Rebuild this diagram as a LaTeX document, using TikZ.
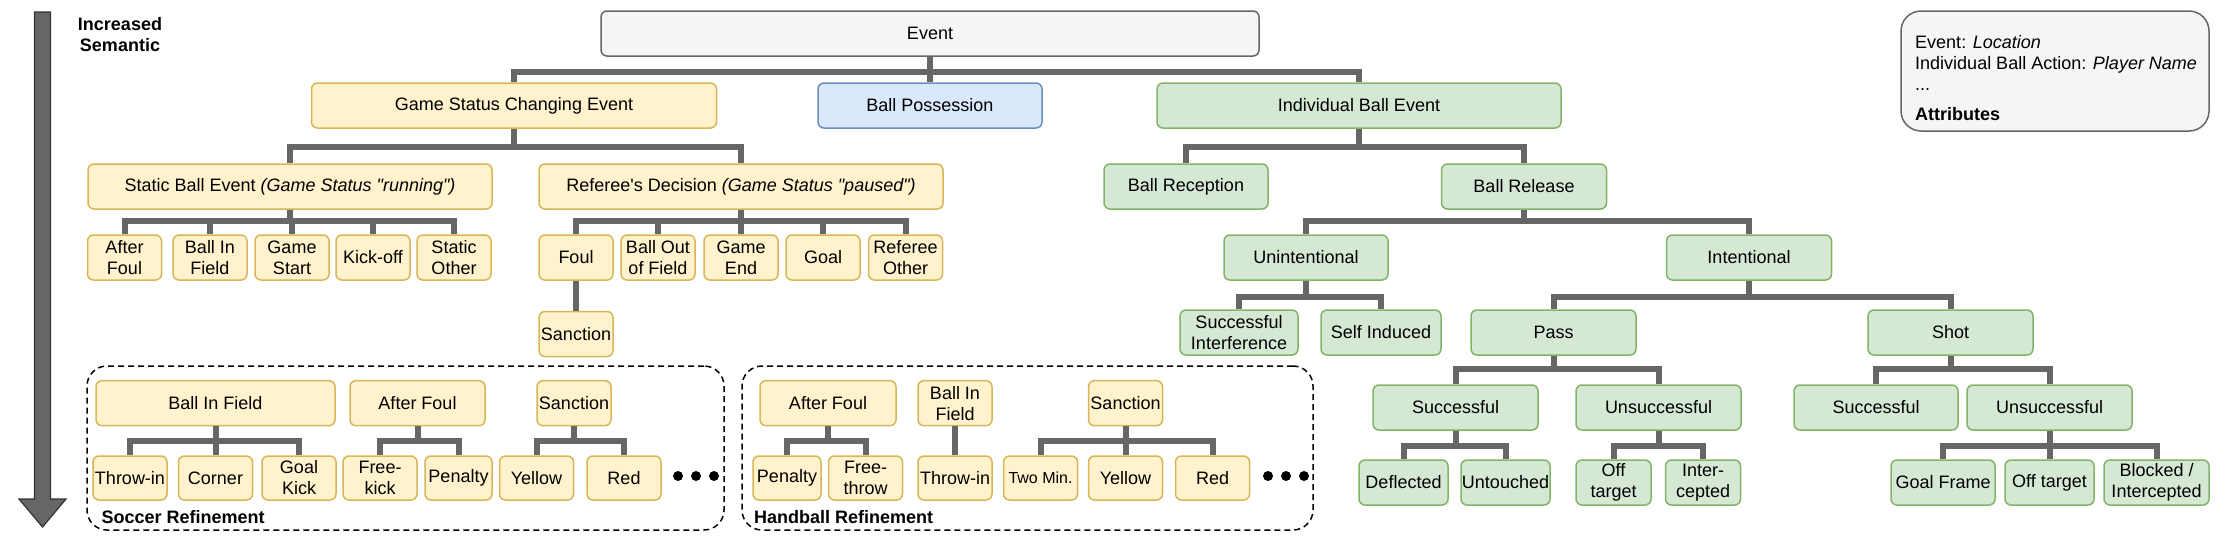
\documentclass[tikz,border=0pt]{standalone}
\usepackage{fontspec}
\setsansfont{Liberation Sans}[Ligatures=TeXOff]
\usetikzlibrary{positioning}

\definecolor{ylwfill}{HTML}{FFF2CC}
\definecolor{ylwdraw}{HTML}{D6B656}
\definecolor{grnfill}{HTML}{D5E8D4}
\definecolor{grndraw}{HTML}{82B366}
\definecolor{bluefill}{HTML}{DAE8FC}
\definecolor{bluedraw}{HTML}{6C8EBF}
\definecolor{greyfill}{HTML}{F5F5F5}
\definecolor{linegrey}{HTML}{666666}

\begin{document}
\begin{tikzpicture}[
        x=1pt, y=-1pt,
        font=\sffamily\fontsize{18}{21}\selectfont,
        conn/.style={line width=6pt, draw=linegrey},
        basebox/.style={
            rounded corners=6pt,
            line width=1.5pt,
            align=center,
            inner sep=0pt,
            minimum height=45pt
        },
        ybox/.style={basebox, draw=ylwdraw, fill=ylwfill},
        gbox/.style={basebox, draw=grndraw, fill=grnfill},
        refframe/.style={
            draw=black,
            line width=1.5pt,
            dash pattern=on 6pt off 4pt,
            rounded corners=20pt,
            minimum height=164pt
        }
    ]
    \useasboundingbox (0,0) rectangle (2218,538);

    % Step 1: semantic axis
    \draw[fill=linegrey, draw=black!80, line width=1.2pt]
        (34.5,12) -- (50.5,12) -- (50.5,499) -- (66,499) -- (42.5,527)
        -- (19,499) -- (34.5,499) -- cycle;
    \node[align=center] (semantic) at (120,34.5) {\bfseries Increased\\\bfseries Semantic};

    % Step 2: root and first level
    \node[basebox, draw=linegrey, fill=greyfill, minimum width=658pt] (event) at (930,33.5) {Event};

    \node[ybox, minimum width=405pt] (gsce) at (514,105.5) {Game Status Changing Event};
    \node[basebox, draw=bluedraw, fill=bluefill, minimum width=224pt] (bposs) at (930,105.5) {Ball Possession};
    \node[gbox, minimum width=404pt] (ibe) at (1359,105.5) {Individual Ball Event};

    \draw[conn] (event.south) -- ++(0,15) -| (gsce.north);
    \draw[conn] (event.south) -- (bposs.north);
    \draw[conn] (event.south) -- ++(0,15) -| (ibe.north);

    % Step 3: game status branch
    \node[ybox, minimum width=404pt] (static) at (290,186.5) {Static Ball Event \textit{(Game Status "running")}};
    \node[ybox, minimum width=404pt] (referee) at (741,186.5) {Referee's Decision \textit{(Game Status "paused")}};

    \draw[conn] (gsce.south) -- ++(0,18) -| (static.north);
    \draw[conn] (gsce.south) -- ++(0,18) -| (referee.north);

    \node[ybox, minimum width=74pt] (afoul) at (124.5,257.5) {After\\Foul};
    \node[ybox, minimum width=74pt] (bif) at (210,257.5) {Ball In\\Field};
    \node[ybox, minimum width=74pt] (gstart) at (292,257.5) {Game\\Start};
    \node[ybox, minimum width=74pt] (kickoff) at (373,257.5) {Kick-off};
    \node[ybox, minimum width=74pt] (sother) at (454,257.5) {Static\\Other};

    \node[ybox, minimum width=74pt] (foul) at (576,257.5) {Foul};
    \node[ybox, minimum width=74pt] (bout) at (658,257.5) {Ball Out\\of Field};
    \node[ybox, minimum width=74pt] (gend) at (741,257.5) {Game\\End};
    \node[ybox, minimum width=74pt] (goal) at (823,257.5) {Goal};
    \node[ybox, minimum width=74pt] (rother) at (905.5,257.5) {Referee\\Other};
    \node[ybox, minimum width=74pt, below=30pt of foul] (sanction) {Sanction};

    \draw[conn] (static.south) -- ++(0,11) -| (afoul.north);
    \draw[conn] (static.south) -- ++(0,11) -| (bif.north);
    \draw[conn] (static.south) -- ++(0,11) -| (gstart.north);
    \draw[conn] (static.south) -- ++(0,11) -| (kickoff.north);
    \draw[conn] (static.south) -- ++(0,11) -| (sother.north);
    \draw[conn] (referee.south) -- ++(0,11) -| (foul.north);
    \draw[conn] (referee.south) -- ++(0,11) -| (bout.north);
    \draw[conn] (referee.south) -- ++(0,11) -| (gend.north);
    \draw[conn] (referee.south) -- ++(0,11) -| (goal.north);
    \draw[conn] (referee.south) -- ++(0,11) -| (rother.north);
    \draw[conn] (foul.south) -- (sanction.north);

    % Step 4: individual ball branch
    \node[gbox, minimum width=164pt] (brecep) at (1186,186.5) {Ball Reception};
    \node[gbox, minimum width=165pt] (brelease) at (1524,186.5) {Ball Release};

    \draw[conn] (ibe.south) -- ++(0,18) -| (brecep.north);
    \draw[conn] (ibe.south) -- ++(0,18) -| (brelease.north);

    \node[gbox, minimum width=164pt] (unint) at (1306,257.5) {Unintentional};
    \node[gbox, minimum width=165pt] (intent) at (1749,257.5) {Intentional};

    \draw[conn] (brelease.south) -- ++(0,11) -| (unint.north);
    \draw[conn] (brelease.south) -- ++(0,11) -| (intent.north);

    \node[gbox, minimum width=118pt] (succint) at (1239,332.5) {Successful\\Interference};
    \node[gbox, minimum width=120pt] (selfind) at (1381,332.5) {Self Induced};
    \node[gbox, minimum width=165pt] (pass) at (1553.5,332.5) {Pass};
    \node[gbox, minimum width=165pt] (shot) at (1950.5,332.5) {Shot};

    \draw[conn] (unint.south) -- ++(0,16) -| (succint.north);
    \draw[conn] (unint.south) -- ++(0,16) -| (selfind.north);
    \draw[conn] (intent.south) -- ++(0,16) -| (pass.north);
    \draw[conn] (intent.south) -- ++(0,16) -| (shot.north);

    \node[gbox, minimum width=165pt] (psucc) at (1455.5,407.5) {Successful};
    \node[gbox, minimum width=165pt] (punsucc) at (1658.5,407.5) {Unsuccessful};
    \node[gbox, minimum width=164pt] (ssucc) at (1876,407.5) {Successful};
    \node[gbox, minimum width=165pt] (sunsucc) at (2049.5,407.5) {Unsuccessful};

    \draw[conn] (pass.south) -- ++(0,13) -| (psucc.north);
    \draw[conn] (pass.south) -- ++(0,13) -| (punsucc.north);
    \draw[conn] (shot.south) -- ++(0,13) -| (ssucc.north);
    \draw[conn] (shot.south) -- ++(0,13) -| (sunsucc.north);

    \node[gbox, minimum width=89pt] (deflected) at (1403.5,482.5) {Deflected};
    \node[gbox, minimum width=89pt] (untouched) at (1505.5,482.5) {Untouched};
    \node[gbox, minimum width=75pt] (poff) at (1613.5,482.5) {Off\\target};
    \node[gbox, minimum width=75pt] (pinter) at (1703,482.5) {Inter-\\cepted};
    \node[gbox, minimum width=104pt] (goalframe) at (1943,482.5) {Goal Frame};
    \node[gbox, minimum width=89pt] (soff) at (2049.5,482.5) {Off target};
    \node[gbox, minimum width=105pt] (blocked) at (2156.5,482.5) {Blocked /\\Intercepted};

    \draw[conn] (psucc.south) -- ++(0,15) -| (deflected.north);
    \draw[conn] (psucc.south) -- ++(0,15) -| (untouched.north);
    \draw[conn] (punsucc.south) -- ++(0,15) -| (poff.north);
    \draw[conn] (punsucc.south) -- ++(0,15) -| (pinter.north);
    \draw[conn] (sunsucc.south) -- ++(0,15) -| (goalframe.north);
    \draw[conn] (sunsucc.south) -- ++(0,15) -| (soff.north);
    \draw[conn] (sunsucc.south) -- ++(0,15) -| (blocked.north);

    % Step 5: attributes legend
    \node[draw=linegrey, fill=greyfill, line width=1.5pt, rounded corners=20pt,
        minimum width=308pt, minimum height=120pt] (attr) at (2055,71) {};
    \node[anchor=north west, align=left, inner sep=0pt] (attrtext) at (1915,35) {
        Event: \textit{Location}\\
        Individual Ball Action: \textit{Player Name}\\
        ...\\[9pt]
        \bfseries Attributes
    };

    % Step 6: soccer refinement
    \node[refframe, minimum width=637pt] (soccer) at (405.5,448) {};
    \node[anchor=base west, inner sep=0pt] (soccercap) at (101.5,523) {\bfseries Soccer Refinement};

    \node[ybox, minimum width=239pt] (sbif) at (215.5,403.2) {Ball In Field};
    \node[ybox, minimum width=135pt] (safoul) at (417.5,403.2) {After Foul};
    \node[ybox, minimum width=74pt] (ssanc) at (574,403.2) {Sanction};

    \node[ybox, minimum width=74pt, minimum height=44pt] (sthrow) at (130,478) {Throw-in};
    \node[ybox, minimum width=74pt, minimum height=44pt] (scorner) at (215.5,478) {Corner};
    \node[ybox, minimum width=74pt, minimum height=44pt] (sgoalkick) at (299,478) {Goal\\Kick};
    \node[ybox, minimum width=74pt, minimum height=44pt] (sfree) at (380,478) {Free-\\kick};
    \node[ybox, minimum width=67pt, minimum height=44pt] (spenalty) at (458.5,478) {Penalty};
    \node[ybox, minimum width=74pt, minimum height=44pt] (syellow) at (536.5,478) {Yellow};
    \node[ybox, minimum width=74pt, minimum height=44pt] (sred) at (624,478) {Red};

    \draw[conn] (sbif.south) -- ++(0,15) -| (sthrow.north);
    \draw[conn] (sbif.south) -- ++(0,15) -| (scorner.north);
    \draw[conn] (sbif.south) -- ++(0,15) -| (sgoalkick.north);
    \draw[conn] (safoul.south) -- ++(0,15) -| (sfree.north);
    \draw[conn] (safoul.south) -- ++(0,15) -| (spenalty.north);
    \draw[conn] (ssanc.south) -- ++(0,15) -| (syellow.north);
    \draw[conn] (ssanc.south) -- ++(0,15) -| (sred.north);

    \fill (678,476) circle (5pt) (696,476) circle (5pt) (714,476) circle (5pt);

    % Step 7: handball refinement
    \node[refframe, minimum width=571pt] (handball) at (1027.5,448) {};
    \node[anchor=base west, inner sep=0pt] (handcap) at (754,523) {\bfseries Handball Refinement};

    \node[ybox, minimum width=136pt] (hafoul) at (828,403.2) {After Foul};
    \node[ybox, minimum width=74pt] (hbif) at (955,403.2) {Ball In\\Field};
    \node[ybox, minimum width=74pt] (hsanc) at (1125.5,403.2) {Sanction};

    \node[ybox, minimum width=68pt, minimum height=44pt] (hpenalty) at (787,478) {Penalty};
    \node[ybox, minimum width=74pt, minimum height=44pt] (hfree) at (865.5,478) {Free-\\throw};
    \node[ybox, minimum width=74pt, minimum height=44pt] (hthrow) at (955,478) {Throw-in};
    \node[ybox, minimum width=74pt, minimum height=44pt] (htwomin) at (1040.5,478) {\fontsize{16}{19}\selectfont Two Min.};
    \node[ybox, minimum width=74pt, minimum height=44pt] (hyellow) at (1125.5,478) {Yellow};
    \node[ybox, minimum width=74pt, minimum height=44pt] (hred) at (1212.5,478) {Red};

    \draw[conn] (hafoul.south) -- ++(0,15) -| (hpenalty.north);
    \draw[conn] (hafoul.south) -- ++(0,15) -| (hfree.north);
    \draw[conn] (hbif.south) -- (hthrow.north);
    \draw[conn] (hsanc.south) -- ++(0,15) -| (htwomin.north);
    \draw[conn] (hsanc.south) -- ++(0,15) -| (hyellow.north);
    \draw[conn] (hsanc.south) -- ++(0,15) -| (hred.north);

    \fill (1268,476) circle (5pt) (1286,476) circle (5pt) (1304,476) circle (5pt);

\end{tikzpicture}
\end{document}
